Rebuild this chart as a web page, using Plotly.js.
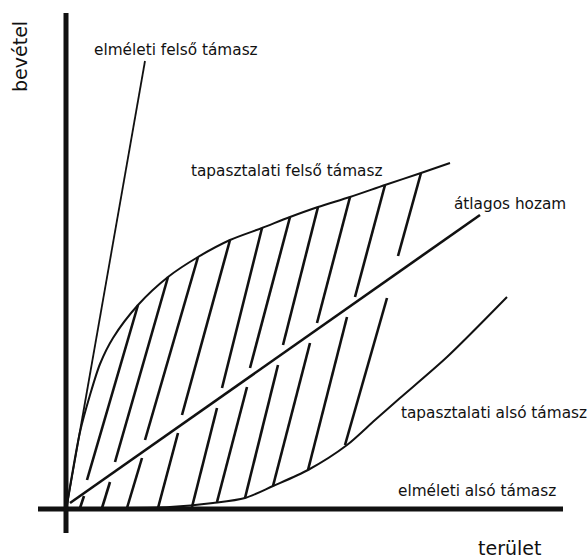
<!DOCTYPE html>
<html>
<head>
<meta charset="utf-8">
<script src="https://cdn.plot.ly/plotly-3.0.1.min.js"></script>
<style>html,body{margin:0;padding:0;background:#fff;}#chart{width:587px;height:558px;}</style>
</head>
<body>
<div id="chart"></div>
<script>
// Axes (terület = x, bevétel = y)
const axisHX = [-28, 497], axisHY = [0, 0];
const axisVX = [0, 0],     axisVY = [496, -24];

// elméleti felső támasz (theoretical upper bound)
const theoUpperX = [1, 79];
const theoUpperY = [4, 448];

// tapasztalati felső támasz (empirical upper bound)
const empUpperX = [1, 6, 14, 24, 34, 47, 72, 102, 132, 164, 196, 224, 252, 284, 319, 355, 384];
const empUpperY = [4, 34, 77, 114, 145, 171, 204, 232, 252, 269, 281, 292, 302, 312, 324, 336, 346];

// átlagos hozam (average yield)
const avgX = [4, 414];
const avgY = [6, 294];

// tapasztalati alsó támasz (empirical lower bound)
const empLowerX = [0, 54, 104, 147, 179, 207, 242, 281, 309, 334, 381, 441];
const empLowerY = [1, 1, 2, 6, 11, 23, 39, 64, 89, 111, 152, 212];

// hatching above the average line
const hatchUpX1 = [72, 102, 132, 164, 196, 224, 252, 284, 319, 355];
const hatchUpY1 = [204, 232, 252, 269, 281, 292, 302, 312, 324, 336];
const hatchUpX2 = [21, 49, 79, 116, 156, 184, 217, 251, 289, 332];
const hatchUpY2 = [29, 47, 69, 94, 121, 141, 164, 186, 212, 253];

// hatching below the average line
const hatchLoX1 = [18, 44, 76, 112, 151, 181, 212, 244, 281, 321];
const hatchLoY1 = [13, 27, 51, 76, 101, 122, 144, 166, 192, 211];
const hatchLoX2 = [14, 36, 61, 92, 126, 151, 179, 207, 242, 279];
const hatchLoY2 = [1, 1, 1, 1, 2, 7, 11, 23, 39, 64];

// labels
const labelText = ["elméleti felső támasz", "tapasztalati felső támasz", "átlagos hozam",
                   "tapasztalati alsó támasz", "elméleti alsó támasz"];
const labelX = [26, 123, 386, 333, 330];
const labelY = [459, 338, 305, 96, 18];
const xTitle = "terület", yTitle = "bevétel";

function segs(x1, y1, x2, y2) {
  const X = [], Y = [];
  for (let i = 0; i < x1.length; i++) {
    X.push(x1[i], x2[i], null);
    Y.push(y1[i], y2[i], null);
  }
  return {X, Y};
}
const hu = segs(hatchUpX1, hatchUpY1, hatchUpX2, hatchUpY2);
const hl = segs(hatchLoX1, hatchLoY1, hatchLoX2, hatchLoY2);

const ink = '#111';
const line = (x, y, w, shape) => ({
  x, y, type: 'scatter', mode: 'lines', hoverinfo: 'skip', showlegend: false,
  line: {color: ink, width: w, shape: shape || 'linear', smoothing: 0.8}, connectgaps: false
});

const traces = [
  line(hu.X, hu.Y, 2.6),
  line(hl.X, hl.Y, 2.6),
  line(theoUpperX, theoUpperY, 1.8),
  line(empUpperX, empUpperY, 2, 'spline'),
  line(empLowerX, empLowerY, 2, 'spline'),
  line(avgX, avgY, 2.6),
  line(axisHX, axisHY, 5),
  line(axisVX, axisVY, 5)
];

const font = {family: 'DejaVu Sans, Verdana, sans-serif', size: 15.3, color: ink};
const annotations = labelText.map((t, i) => ({
  text: t, x: labelX[i], y: labelY[i], xref: 'x', yref: 'y',
  xanchor: 'left', yanchor: 'middle', showarrow: false, font
}));
annotations.push({text: xTitle, x: 410, y: -39, xref: 'x', yref: 'y', xanchor: 'left', yanchor: 'middle',
  showarrow: false, font: {family: font.family, size: 19, color: ink}});
annotations.push({text: yTitle, x: -46, y: 452, xref: 'x', yref: 'y', xanchor: 'center', yanchor: 'middle',
  textangle: -90, showarrow: false, font: {family: font.family, size: 19, color: ink}});

const layout = {
  width: 587, height: 558,
  margin: {l: 0, r: 0, t: 0, b: 0},
  paper_bgcolor: '#fff', plot_bgcolor: '#fff',
  xaxis: {range: [-66, 521], visible: false, fixedrange: true},
  yaxis: {range: [-49, 509], visible: false, fixedrange: true},
  annotations, showlegend: false
};

Plotly.newPlot('chart', traces, layout, {displayModeBar: false, staticPlot: true});
</script>
</body>
</html>
